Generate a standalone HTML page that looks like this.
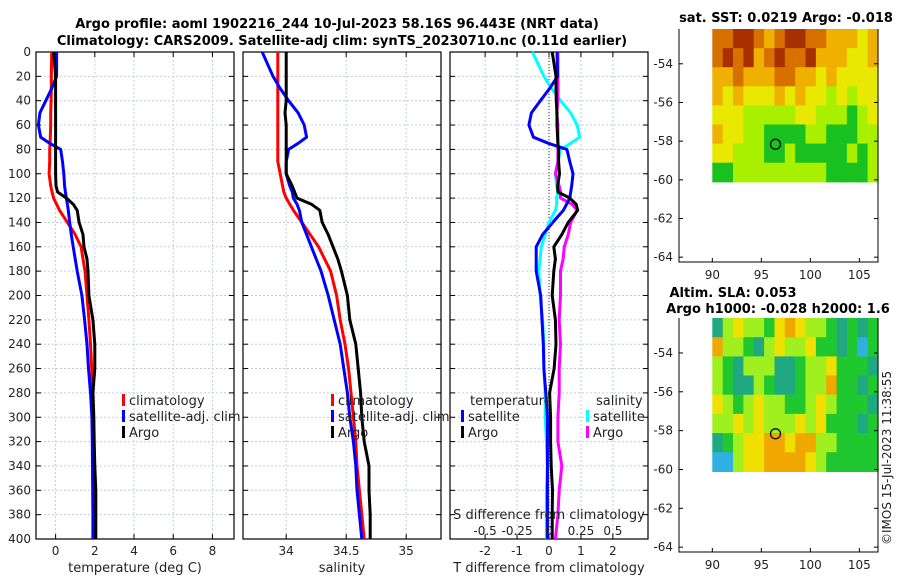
<!DOCTYPE html>
<html><head><meta charset="utf-8">
<style>
body{margin:0;background:#fff;}
svg{display:block;font-family:"DejaVu Sans","Liberation Sans",sans-serif;}
</style></head>
<body>
<svg id="fig" width="900" height="580" viewBox="0 0 900 580" xmlns="http://www.w3.org/2000/svg">
<text x="337" y="28" font-size="13" font-weight="bold" text-anchor="middle">Argo profile: aoml 1902216_244 10-Jul-2023 58.16S 96.443E (NRT data)</text>
<text x="342" y="45" font-size="13" font-weight="bold" text-anchor="middle">Climatology: CARS2009. Satellite-adj clim: synTS_20230710.nc (0.11d earlier)</text>
<text x="786" y="22" font-size="13" font-weight="bold" text-anchor="middle">sat. SST: 0.0219 Argo: -0.018</text>
<text x="733" y="297" font-size="13" font-weight="bold" text-anchor="middle">Altim. SLA: 0.053</text>
<text x="778" y="313" font-size="13" font-weight="bold" text-anchor="middle">Argo h1000: -0.028 h2000: 1.6</text>
<text transform="translate(891,545) rotate(-90)" font-size="12" fill="#222">©IMOS 15-Jul-2023 11:38:55</text>
<g id="g"></g>
</svg>
<script>
// ---- profile data ----
const depths = [0,20,30,40,50,60,70,75,80,90,100,110,115,120,125,130,140,150,160,170,180,200,220,240,260,280,300,320,340,360,380,400];
const tempClim = [-0.2,-0.22,-0.22,-0.23,-0.25,-0.25,-0.27,-0.28,-0.3,-0.3,-0.33,-0.25,-0.18,-0.1,0.05,0.2,0.6,1.0,1.3,1.4,1.5,1.6,1.7,1.78,1.84,1.88,1.9,1.92,1.93,1.94,1.95,1.95];
const tempSat = [0.05,0.05,-0.2,-0.5,-0.8,-0.88,-0.76,-0.3,0.26,0.35,0.42,0.46,0.5,0.55,0.6,0.65,0.72,0.8,0.9,1.0,1.1,1.34,1.48,1.6,1.68,1.78,1.85,1.87,1.88,1.89,1.9,1.9];
const tempArgo = [-0.1,0,0,0,0,0,0,0,0,0,0,0.02,0.1,0.55,0.9,1.1,1.2,1.4,1.45,1.6,1.65,1.7,1.9,2.0,2.0,1.9,1.95,1.97,2.0,2.05,2.05,2.05];
const salClim = [33.93,33.93,33.93,33.93,33.93,33.93,33.93,33.93,33.93,33.93,33.95,33.97,33.98,34.0,34.03,34.06,34.13,34.2,34.27,34.32,34.37,34.42,34.45,34.49,34.52,34.54,34.56,34.58,34.59,34.61,34.63,34.65];
const salSat = [33.8,33.89,33.95,34.02,34.1,34.15,34.17,34.1,34.02,34.0,34.0,34.03,34.05,34.06,34.09,34.11,34.13,34.17,34.21,34.25,34.29,34.35,34.4,34.45,34.48,34.51,34.53,34.56,34.58,34.59,34.61,34.63];
const salArgo = [34.0,34.0,34.0,34.0,33.99,34.0,34.0,34.0,34.0,34.0,34.0,34.05,34.07,34.09,34.21,34.28,34.3,34.35,34.39,34.43,34.46,34.51,34.53,34.58,34.6,34.62,34.63,34.65,34.69,34.69,34.7,34.7];
const depthTicks = [0,20,40,60,80,100,120,140,160,180,200,220,240,260,280,300,320,340,360,380,400];
const tempTicks = [0,2,4,6,8];
const salTicks = [34,34.5,35];
const salTickLabels = ["34","34.5","35"];
const diffTicks = [-2,-1,0,1,2];
const sDiffTicks = [-0.5,-0.25,0,0.25,0.5];
const sDiffTickLabels = ["-0.5","-0.25","0","0.25","0.5"];
// ---- map data (rows north->south) ----
const sstRows = ["rrbbrorbbrroooyo","rbrborbrrboooyyo","oorooorrooyoyyyy","oyoyyyoyoyylylyy","yyylllllyylllgly","oyyllggggllgggll","yylllgglggggglgl","gglllllllllggggl"];
const slaRows = ["tlyllgyoyllgtgtg","ollgtlyllyggtgcg","lgtlllttgllygggt","lgttlgttglloggtg","ylglyllgglylgggt","llylylllylygggtg","tglyyooyoollgggg","cclyyooooylggggg"];
const mapXTicks = [90,95,100,105];
const mapYTicks = [-54,-56,-58,-60,-62,-64];
const argoLon = 96.443, argoLat = -58.16;

const NS="http://www.w3.org/2000/svg";
const G=document.getElementById('g');
function mk(tag,attrs,parent){const e=document.createElementNS(NS,tag);for(const k in attrs)e.setAttribute(k,attrs[k]);(parent||G).appendChild(e);return e;}

const PT=52, PB=539;
const yD = d => PT + (d/400)*(PB-PT);
const panels=[
 {name:'temperature',x0:36,x1:234,min:-1,max:9.1,ticks:tempTicks,labels:tempTicks.map(String),xlabel:'temperature (deg C)'},
 {name:'salinity',x0:243,x1:441,min:33.64,max:35.29,ticks:salTicks,labels:salTickLabels,xlabel:'salinity'},
 {name:'difference',x0:450,x1:648,min:-3.1,max:3.1,ticks:diffTicks,labels:diffTicks.map(String),xlabel:'T difference from climatology'}
];
panels.forEach(p=>{p.sx=v=>p.x0+(v-p.min)/(p.max-p.min)*(p.x1-p.x0);});

panels.forEach((p,pi)=>{
 const g=mk('g',{});
 
 
 // grid
 depthTicks.forEach(d=>{
  const l=mk('line',{x1:p.x0,x2:p.x1,y1:yD(d),y2:yD(d),stroke:'#c4cce4','stroke-width':1,'stroke-dasharray':'2,2'},g);
  
  
  mk('line',{x1:p.x0,x2:p.x0+5,y1:yD(d),y2:yD(d),stroke:'#000'},g);
  mk('line',{x1:p.x1-5,x2:p.x1,y1:yD(d),y2:yD(d),stroke:'#000'},g);
  if(pi===0){const t=mk('text',{x:p.x0-5,y:yD(d)+4,'font-size':12,'text-anchor':'end',fill:'#222'},g);t.textContent=d;
   
   }
 });
 p.ticks.forEach((v,i)=>{
  const x=p.sx(v);
  mk('line',{x1:x,x2:x,y1:PT,y2:PB,stroke:'#c4cce4','stroke-width':1,'stroke-dasharray':'2,2'},g);
  mk('line',{x1:x,x2:x,y1:PT,y2:PT+5,stroke:'#000'},g);
  mk('line',{x1:x,x2:x,y1:PB-5,y2:PB,stroke:'#000'},g);
  const t=mk('text',{x:x,y:PB+16,'font-size':12,'text-anchor':'middle',fill:'#222'},g);t.textContent=p.labels[i];
  
  
 });
 const r=mk('rect',{x:p.x0,y:PT,width:p.x1-p.x0,height:PB-PT,fill:'none',stroke:'#000','stroke-width':1.2},g);
 
 
 const xl=mk('text',{x:(p.x0+p.x1)/2,y:572,'font-size':13,'text-anchor':'middle',fill:'#222'},g);xl.textContent=p.xlabel;
 
 
});

function line(p,vals,color,name,w){
 const pts=vals.map((v,i)=>p.sx(v).toFixed(1)+','+yD(depths[i]).toFixed(1)).join(' ');
 const e=mk('polyline',{points:pts,fill:'none',stroke:color,'stroke-width':w||3,'stroke-linejoin':'round'});
 
 
}
const P1=panels[0],P2=panels[1],P3=panels[2];
line(P1,tempClim,'#f00','temp-climatology-line');
line(P1,tempSat,'#00f','temp-satellite-line');
line(P1,tempArgo,'#000','temp-argo-line');
line(P2,salClim,'#f00','sal-climatology-line');
line(P2,salSat,'#00f','sal-satellite-line');
line(P2,salArgo,'#000','sal-argo-line');
// zero line panel3
const z=mk('line',{x1:P3.sx(0),x2:P3.sx(0),y1:PT,y2:PB,stroke:'#333','stroke-dasharray':'1,2'});


const SF=4;
line(P3,salSat.map((v,i)=>(v-salClim[i])*SF),'#0ff','sal-diff-satellite-line');
line(P3,salArgo.map((v,i)=>(v-salClim[i])*SF),'#f0f','sal-diff-argo-line');
line(P3,tempSat.map((v,i)=>v-tempClim[i]),'#00f','temp-diff-satellite-line');
line(P3,tempArgo.map((v,i)=>v-tempClim[i]),'#000','temp-diff-argo-line');
// S axis inside panel 3
const sl=mk('text',{x:549,y:519,'font-size':13,'text-anchor':'middle',fill:'#222'});sl.textContent='S difference from climatology';


sDiffTicks.forEach((v,i)=>{const t=mk('text',{x:P3.sx(v*SF),y:535,'font-size':12,'text-anchor':'middle',fill:'#222'});t.textContent=sDiffTickLabels[i];
 
 });

// legends
function legend(x,y,items){items.forEach((it,i)=>{
 const b=mk('rect',{x:x,y:y+i*16-11,width:3,height:12,fill:it[1]});
 
 
 const t=mk('text',{x:x+7,y:y+i*16,'font-size':13,fill:'#222'});t.textContent=it[0];
 
 
});}
legend(122,405,[['climatology','#f00'],['satellite-adj. clim','#00f'],['Argo','#000']]);
legend(331,405,[['climatology','#f00'],['satellite-adj. clim','#00f'],['Argo','#000']]);
legend(461,421,[['satellite','#00f'],['Argo','#000']]);
legend(586,421,[['satellite','#0ff'],['Argo','#f0f']]);
const lt1=mk('text',{x:470,y:405,'font-size':13,fill:'#222'});lt1.textContent='temperature';


const lt2=mk('text',{x:596,y:405,'font-size':13,fill:'#222'});lt2.textContent='salinity';



// maps
const sstCol={g:'#18c020',l:'#a8f000',y:'#e8e800',o:'#f0b000',r:'#d87000',b:'#a83000'};
const slaCol={g:'#20c830',l:'#a0f020',y:'#f0e000',o:'#f0a800',t:'#20a880',c:'#30b0e0'};
function drawMap(name,top,bottom,rows,cols){
 const x0=679,x1=878,lonMin=86.6,lonMax=106.9,latTop=-52.2,latBot=-64.25;
 const sx=v=>x0+(v-lonMin)/(lonMax-lonMin)*(x1-x0);
 const sy=v=>top+(v-latTop)/(latBot-latTop)*(bottom-top);
 const g=mk('g',{});
 
 
 const nR=rows.length,nC=rows[0].length;
 const ix0=sx(90),ix1=x1,iy0=top,iy1=sy(-60.1);
 const cw=(ix1-ix0)/nC,ch=(iy1-iy0)/nR;
 rows.forEach((row,r)=>{[...row].forEach((c,k)=>{
  const e=mk('rect',{x:(ix0+k*cw).toFixed(1),y:(iy0+r*ch).toFixed(1),width:(cw+0.6).toFixed(1),height:(ch+0.6).toFixed(1),fill:cols[c]},g);
  
  
 });});
 mapYTicks.forEach(v=>{mk('line',{x1:x0,x2:x0+4,y1:sy(v),y2:sy(v),stroke:'#000'},g);mk('line',{x1:x1-4,x2:x1,y1:sy(v),y2:sy(v),stroke:'#000'},g);
  const t=mk('text',{x:x0-6,y:sy(v)+4,'font-size':12,'text-anchor':'end',fill:'#222'},g);t.textContent=v;
  
  });
 mapXTicks.forEach(v=>{mk('line',{x1:sx(v),x2:sx(v),y1:bottom-4,y2:bottom,stroke:'#000'},g);
  const t=mk('text',{x:sx(v),y:bottom+17,'font-size':12,'text-anchor':'middle',fill:'#222'},g);t.textContent=v;
  
  });
 mk('polyline',{points:`${x0},${top} ${x0},${bottom} ${x1},${bottom} ${x1},${top}`,fill:'none',stroke:'#000'},g);
 const c=mk('circle',{cx:sx(argoLon),cy:sy(argoLat),r:5,fill:'none',stroke:'#000','stroke-width':1.2},g);
 
 
}
drawMap('sst-map',29,262,sstRows,sstCol);
drawMap('sla-map',318,552,slaRows,slaCol);
</script>
</body></html>
